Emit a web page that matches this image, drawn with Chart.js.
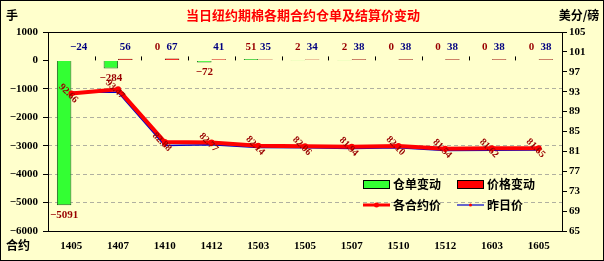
<!DOCTYPE html>
<html>
<head>
<meta charset="utf-8">
<script src="https://cdn.jsdelivr.net/npm/chart.js@4.4.0/dist/chart.umd.min.js"></script>
<style>
  html, body { margin: 0; padding: 0; background: #FFFFCC; }
  #wrap { width: 604px; height: 261px; position: relative; }
</style>
</head>
<body>
<div id="wrap"><canvas id="cottonChart" width="604" height="261"></canvas></div>
<script>
// 当日纽约期棉各期合约仓单及结算价变动

const contracts = ['1405', '1407', '1410', '1412', '1503', '1505', '1507', '1510', '1512', '1603', '1605'];
const receiptChange = [-5091, -284, 0, -72, 51, 2, 2, 0, 0, 0, 0];   // 仓单变动 (手)
const priceChange = [-24, 56, 67, 41, 35, 34, 38, 38, 38, 38, 38];    // 价格变动 (点)
const settlePrice = [92.66, 93.47, 82.88, 82.77, 82.14, 82.06, 81.94, 82.10, 81.54, 81.62, 81.65]; // 各合约价
const prevPrice = [92.90, 92.91, 82.21, 82.36, 81.79, 81.72, 81.56, 81.72, 81.16, 81.24, 81.27];   // 昨日价

const BG = '#FFFFCC';
const NUM_FONT = '"Liberation Serif", "Times New Roman", serif';
const CJK_FONT = '"Noto Sans CJK SC", "Noto Sans", sans-serif';

// ─── Decorations: background, titles, labels, legend ────────────────────────

const decorPlugin = {
  id: 'decor',
  beforeDraw(chart) {
    const { ctx, width, height } = chart;
    ctx.save();
    ctx.fillStyle = BG;
    ctx.fillRect(0, 0, width, height);
    ctx.restore();
  },
  afterDraw(chart) {
    const { ctx, chartArea: a, scales } = chart;
    const yZero = scales.y.getPixelForValue(0);
    ctx.save();

    // plot area frame + outer frame
    ctx.strokeStyle = '#000';
    ctx.lineWidth = 1;
    ctx.strokeRect(Math.round(a.left) + 0.5, Math.round(a.top) + 0.5, Math.round(a.right - a.left), Math.round(a.bottom - a.top));
    ctx.strokeRect(0.5, 0.5, chart.width - 1, chart.height - 1);

    // small category ticks on the zero line
    for (let i = 1; i < contracts.length; i++) {
      const x = Math.round(scales.x.getPixelForValue(i - 0.5)) + 0.5;
      ctx.beginPath();
      ctx.moveTo(x, yZero - 4);
      ctx.lineTo(x, yZero);
      ctx.stroke();
    }

    // titles
    ctx.textBaseline = 'middle';
    ctx.textAlign = 'center';
    ctx.fillStyle = '#FF0000';
    ctx.font = `bold 13px ${CJK_FONT}`;
    ctx.fillText('当日纽约期棉各期合约仓单及结算价变动', 303, 15);
    ctx.fillStyle = '#000';
    ctx.font = `bold 12px ${CJK_FONT}`;
    ctx.fillText('手', 12, 15);
    ctx.fillText('美分/磅', 579, 15);
    ctx.fillText('合约', 18, 245);

    // bar labels
    ctx.font = `bold 11px ${NUM_FONT}`;
    const recMeta = chart.getDatasetMeta(0);
    const pcMeta = chart.getDatasetMeta(1);
    recMeta.data.forEach((el, i) => {
      const v = receiptChange[i];
      ctx.fillStyle = '#990000';
      const y = v < 0 ? el.y + 10 : yZero - 13;
      ctx.fillText(String(v).replace('-', '−'), el.x, y);
    });
    pcMeta.data.forEach((el, i) => {
      const v = priceChange[i];
      ctx.fillStyle = '#000080';
      ctx.fillText(String(v).replace('-', '−'), el.x, yZero - 13);
    });

    // rotated price labels
    const spMeta = chart.getDatasetMeta(3);
    ctx.fillStyle = '#990000';
    ctx.font = `bold 10px ${NUM_FONT}`;
    spMeta.data.forEach((el, i) => {
      ctx.save();
      ctx.translate(el.x - 3, el.y);
      ctx.rotate(Math.PI / 4);
      ctx.fillText(settlePrice[i].toFixed(2), 0, 0);
      ctx.restore();
    });

    // legend
    const ds = chart.data.datasets;
    ctx.font = `bold 12px ${CJK_FONT}`;
    ctx.textAlign = 'left';
    const cols = [363, 457];
    const rows = [184, 205];
    // bar swatches
    [0, 1].forEach(k => {
      const x = cols[k], y = rows[0];
      ctx.fillStyle = ds[k].backgroundColor;
      ctx.fillRect(x, y - 4, 26, 8);
      ctx.strokeStyle = '#000';
      ctx.strokeRect(x + 0.5, y - 3.5, 26, 8);
      ctx.fillStyle = '#000';
      ctx.fillText(ds[k].label, x + 30, y);
    });
    // line swatches
    [3, 2].forEach((k, j) => {
      const x = cols[j], y = rows[1];
      ctx.strokeStyle = ds[k].borderColor;
      ctx.lineWidth = k === 3 ? 3 : 1.2;
      ctx.beginPath();
      ctx.moveTo(x, y);
      ctx.lineTo(x + 27, y);
      ctx.stroke();
      ctx.fillStyle = '#FF0000';
      ctx.beginPath();
      ctx.arc(x + 13.5, y, k === 3 ? 2.5 : 1.5, 0, Math.PI * 2);
      ctx.fill();
      ctx.fillStyle = '#000';
      ctx.fillText(ds[k].label, x + 30, y);
    });

    ctx.restore();
  },
};

// ─── Chart ──────────────────────────────────────────────────────────────────

new Chart(document.getElementById('cottonChart'), {
  type: 'bar',
  data: {
    labels: contracts,
    datasets: [
      {
        label: '仓单变动',
        data: receiptChange,
        backgroundColor: '#33FF33',
        borderColor: '#206020',
        borderWidth: 1,
        yAxisID: 'y',
        order: 3,
      },
      {
        label: '价格变动',
        data: priceChange,
        backgroundColor: '#FF0000',
        borderColor: '#600000',
        borderWidth: 1,
        yAxisID: 'y',
        order: 4,
      },
      {
        type: 'line',
        label: '昨日价',
        data: prevPrice,
        borderColor: '#0000CC',
        borderWidth: 1.5,
        pointRadius: 1.5,
        pointBackgroundColor: '#FF0000',
        pointBorderWidth: 0,
        yAxisID: 'y1',
        order: 2,
      },
      {
        type: 'line',
        label: '各合约价',
        data: settlePrice,
        borderColor: '#FF0000',
        borderWidth: 4,
        pointRadius: 3,
        pointBackgroundColor: '#FF0000',
        pointBorderWidth: 0,
        yAxisID: 'y1',
        order: 1,
      },
    ],
  },
  options: {
    responsive: false,
    animation: false,
    layout: { padding: { top: 32, left: 0, right: 0, bottom: 0 } },
    datasets: { bar: { categoryPercentage: 0.62, barPercentage: 1.0 } },
    plugins: {
      legend: { display: false },
      tooltip: { enabled: false },
    },
    scales: {
      x: {
        grid: { display: false, drawTicks: false },
        border: { display: false },
        ticks: { color: '#000', font: { family: NUM_FONT, size: 11, weight: 'bold' }, padding: 9, maxRotation: 0 },
        afterFit: s => { s.height = 30; },
      },
      y: {
        position: 'left',
        min: -6000,
        max: 1000,
        ticks: {
          stepSize: 1000,
          color: '#000',
          padding: 5,
          font: { family: NUM_FONT, size: 11, weight: 'bold' },
          callback: v => String(v).replace('-', '−'),
        },
        grid: {
          color: c => (c.tick && c.tick.value <= -1000 && c.tick.value >= -5000) ? '#B0B0A0' : 'rgba(0,0,0,0)',
          tickColor: '#000',
          tickLength: 5,
        },
        border: { display: false, dash: [4, 3] },
        afterFit: s => { s.width = 48; },
      },
      y1: {
        position: 'right',
        min: 65,
        max: 105,
        ticks: {
          stepSize: 4,
          color: '#000',
          padding: 2,
          font: { family: NUM_FONT, size: 11, weight: 'bold' },
        },
        grid: { drawOnChartArea: false, tickColor: '#000', tickLength: 5 },
        border: { display: false },
        afterFit: s => { s.width = 42; },
      },
    },
  },
  plugins: [decorPlugin],
});
</script>
</body>
</html>
